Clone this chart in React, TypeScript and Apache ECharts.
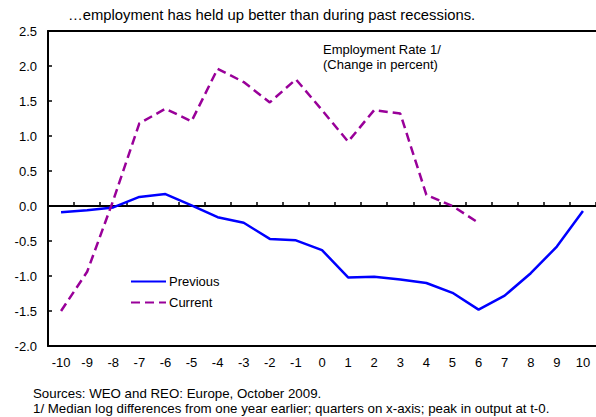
import React, { useEffect, useRef } from "react";
import * as echarts from "echarts";

const quarters = ["-10", "-9", "-8", "-7", "-6", "-5", "-4", "-3", "-2", "-1", "0", "1", "2", "3", "4", "5", "6", "7", "8", "9", "10"];
const previous = [-0.09, -0.06, -0.02, 0.13, 0.17, 0.01, -0.16, -0.24, -0.47, -0.49, -0.63, -1.02, -1.01, -1.05, -1.1, -1.24, -1.48, -1.28, -0.96, -0.58, -0.07];
const current = [-1.5, -0.94, 0.08, 1.18, 1.39, 1.21, 1.96, 1.77, 1.48, 1.81, 1.37, 0.92, 1.37, 1.32, 0.16, 0.0, -0.24];
const yMin = -2;
const yMax = 2.5;
const yStep = 0.5;

const titleText = "\u2026employment has held up better than during past recessions.";
const noteLines = ["Employment Rate 1/", "(Change in percent)"];
const footLines = [
  "Sources: WEO and REO: Europe, October 2009.",
  "1/ Median log differences from one year earlier; quarters on x-axis; peak in output at t-0.",
];

const FONT = "Arial, 'Liberation Sans', sans-serif";

export default function App() {
  const ref = useRef<HTMLDivElement>(null);
  useEffect(() => {
    if (!ref.current) return;
    const chart = echarts.init(ref.current, null, { renderer: "svg" });
    chart.setOption({
      animation: false,
      backgroundColor: "#fff",
      textStyle: { fontFamily: FONT },
      grid: {
        left: 48,
        right: -1,
        top: 31,
        bottom: 71,
        show: false,
      },
      legend: {
        orient: "vertical",
        left: 130,
        top: 275,
        padding: 0,
        itemWidth: 35,
        itemHeight: 14,
        itemGap: 8,
        itemStyle: { opacity: 0 },
        textStyle: { fontFamily: FONT, fontSize: 13, color: "#000", padding: [0, 0, 0, -2] },
        data: ["Previous", "Current"],
      },
      xAxis: [
        {
          type: "category",
          data: quarters,
          boundaryGap: true,
          position: "bottom",
          axisLine: { show: true, onZero: false, lineStyle: { color: "#000", width: 2 } },
          axisTick: { show: false },
          axisLabel: { color: "#000", fontSize: 13, fontFamily: FONT, margin: 10, interval: 0 },
          splitLine: { show: false },
        },
        {
          type: "category",
          data: quarters,
          boundaryGap: true,
          position: "bottom",
          axisLine: { show: true, onZero: true, lineStyle: { color: "#000", width: 2 } },
          axisTick: { show: true, inside: true, length: 4, lineStyle: { color: "#000", width: 1.5 } },
          axisLabel: { show: false },
          splitLine: { show: false },
        },
        {
          type: "category",
          data: quarters,
          boundaryGap: true,
          position: "top",
          axisLine: { show: true, onZero: false, lineStyle: { color: "#000", width: 2 } },
          axisTick: { show: false },
          axisLabel: { show: false },
          splitLine: { show: false },
        },
      ],
      yAxis: {
        type: "value",
        min: yMin,
        max: yMax,
        interval: yStep,
        axisLine: { show: true, onZero: false, lineStyle: { color: "#000", width: 2 } },
        axisTick: { show: true, inside: true, length: 4, lineStyle: { color: "#000", width: 1.5 } },
        axisLabel: {
          color: "#000",
          fontSize: 13,
          fontFamily: FONT,
          margin: 11,
          formatter: (v: number) => v.toFixed(1),
        },
        splitLine: { show: false },
      },
      series: [
        {
          name: "Previous",
          type: "line",
          xAxisIndex: 0,
          data: previous,
          symbol: "none",
          lineStyle: { color: "#0000ff", width: 2.5 },
          itemStyle: { color: "#0000ff" },
        },
        {
          name: "Current",
          type: "line",
          xAxisIndex: 0,
          data: current,
          symbol: "none",
          lineStyle: { color: "#990099", width: 2.5, type: [9, 5] },
          itemStyle: { color: "#990099" },
        },
      ],
      graphic: [
        {
          type: "text",
          left: 68,
          top: 7,
          style: { text: titleText, font: `14.8px ${FONT}`, fill: "#000" },
        },
        {
          type: "text",
          left: 323,
          top: 42,
          style: { text: noteLines.join("\n"), font: `13px ${FONT}`, fill: "#000", lineHeight: 15 },
        },
        {
          type: "text",
          left: 33,
          top: 386,
          style: { text: footLines.join("\n"), font: `13.3px ${FONT}`, fill: "#000", lineHeight: 15 },
        },
      ],
    });
    return () => chart.dispose();
  }, []);
  return <div ref={ref} style={{ position: "absolute", left: 0, top: 0, width: 596, height: 417 }} />;
}
